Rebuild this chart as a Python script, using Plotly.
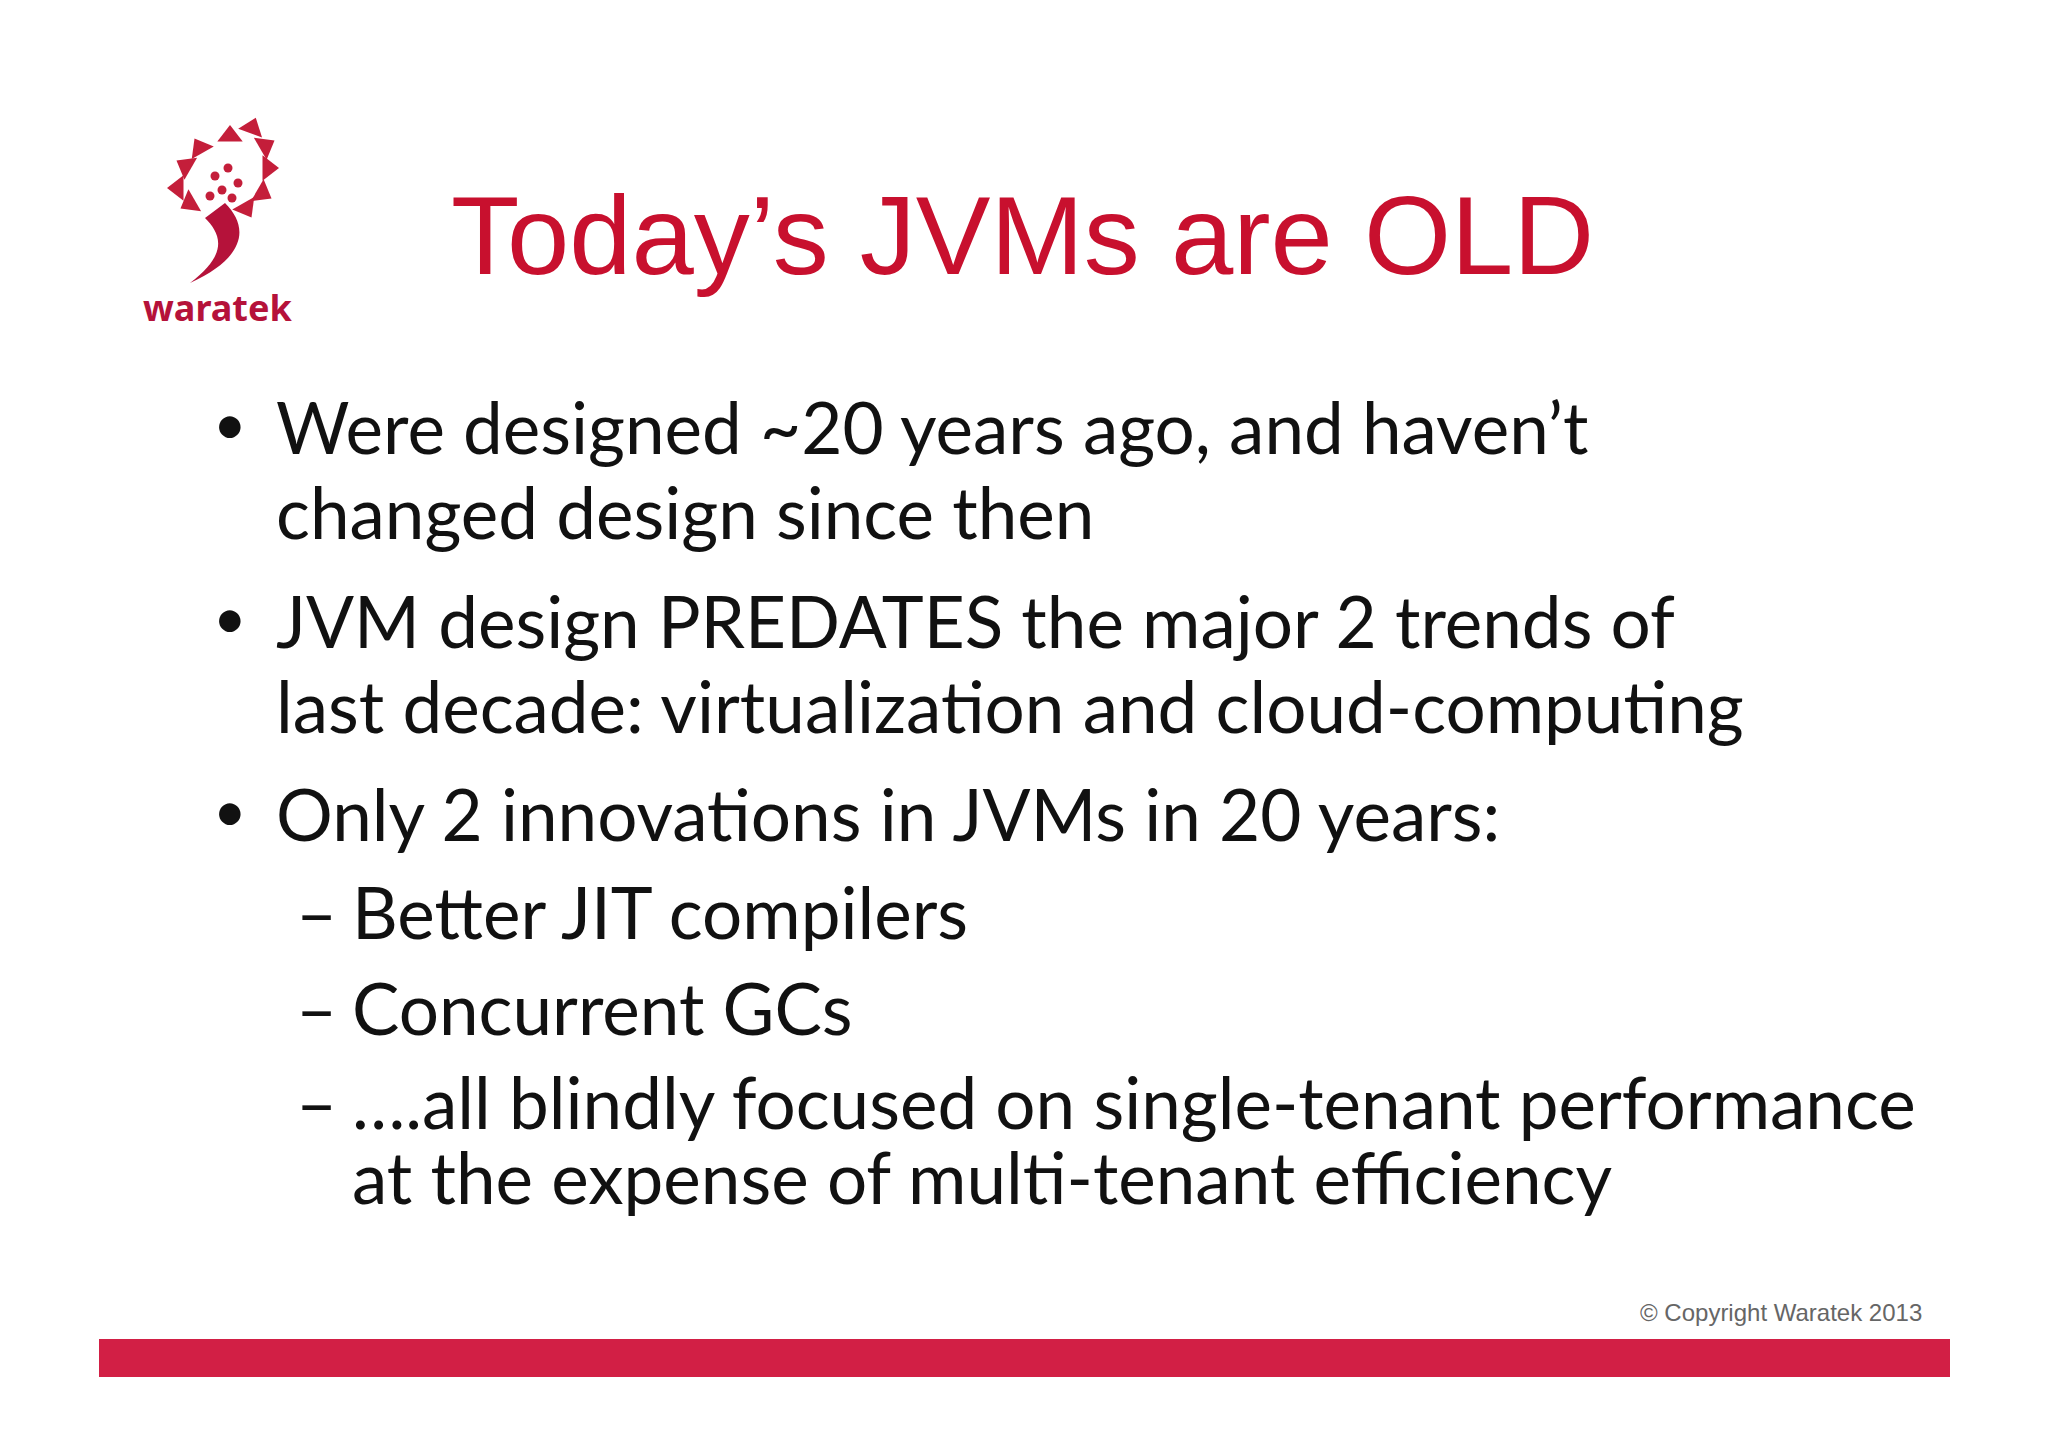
import plotly.graph_objects as go

W, H = 2048, 1447
RED = "#C8102E"

title = "Today\u2019s JVMs are OLD"
bullet_lines = [
    "Were designed ~20 years ago, and haven\u2019t",
    "changed design since then",
    "JVM design PREDATES the major 2 trends of",
    "last decade: virtualization and cloud-computing",
    "Only 2 innovations in JVMs in 20 years:",
]
bullet_marks = [True, False, True, False, True]
bullet_y = [418, 503, 612, 697, 805]
sub_lines = [
    "Better JIT compilers",
    "Concurrent GCs",
    "\u2026.all blindly focused on single-tenant performance",
    "at the expense of multi-tenant efficiency",
]
sub_marks = [True, True, True, False]
sub_y = [903, 999, 1093, 1168]

fig = go.Figure()
ann = []
ann.append(dict(x=1014, y=227, text=title, showarrow=False, xanchor="center", yanchor="middle",
                font=dict(family="Liberation Sans", size=112, color=RED)))
body = dict(family="Lato", size=71, color="#111111")
for t, m, y in zip(bullet_lines, bullet_marks, bullet_y):
    ann.append(dict(x=266, y=y, text=t, showarrow=False, xanchor="left", yanchor="middle", font=body))
    if m:
        ann.append(dict(x=222, y=y - 4, text="\u2022", showarrow=False, xanchor="center", yanchor="middle",
                        font=dict(family="Lato", size=58, color="#111111")))
for t, m, y in zip(sub_lines, sub_marks, sub_y):
    ann.append(dict(x=342, y=y, text=t, showarrow=False, xanchor="left", yanchor="middle", font=body))
    if m:
        ann.append(dict(x=308, y=y, text="\u2013", showarrow=False, xanchor="center", yanchor="middle", font=body))
ann.append(dict(x=1916, y=1304, text="\u00a9 Copyright Waratek 2013", showarrow=False, xanchor="right",
                yanchor="middle", font=dict(family="Liberation Sans", size=24, color="#666666")))
ann.append(dict(x=209, y=299, text="<b>waratek</b>", showarrow=False, xanchor="center", yanchor="middle",
                font=dict(family="Noto Sans", size=36, color="#B5123A")))

# logo petals
petal_x = [222, 244, 257, 260, 254, 238, 192, 178, 170, 182]
petal_y = [128, 120, 138, 160, 185, 200, 140, 158, 180, 195]
petal_a = [0, 20, 60, 90, 120, 150, -30, -60, -90, -120]
fig.add_trace(go.Scatter(x=petal_x, y=petal_y, mode="markers", hoverinfo="skip",
                         marker=dict(symbol="triangle-up", size=22, color="#C41E3A", angle=petal_a)))
dot_x = [207, 220, 214, 230, 202, 224]
dot_y = [168, 160, 182, 175, 188, 190]
fig.add_trace(go.Scatter(x=dot_x, y=dot_y, mode="markers", hoverinfo="skip",
                         marker=dict(size=9, color="#C41E3A")))
fig.add_shape(type="path", path="M 217 195 C 242 220, 237 250, 182 275 C 222 245, 212 225, 197 210 Z",
              fillcolor="#B5123A", line=dict(width=0))
fig.add_shape(type="rect", x0=91, x1=1942, y0=1331, y1=1369, fillcolor="#D21F45", line=dict(width=0))

fig.update_layout(width=W, height=H, margin=dict(l=0, r=0, t=0, b=0), showlegend=False,
                  paper_bgcolor="white", plot_bgcolor="white", annotations=ann,
                  xaxis=dict(range=[0, W], visible=False),
                  yaxis=dict(range=[H, 0], visible=False))
fig.write_html("out.html")
